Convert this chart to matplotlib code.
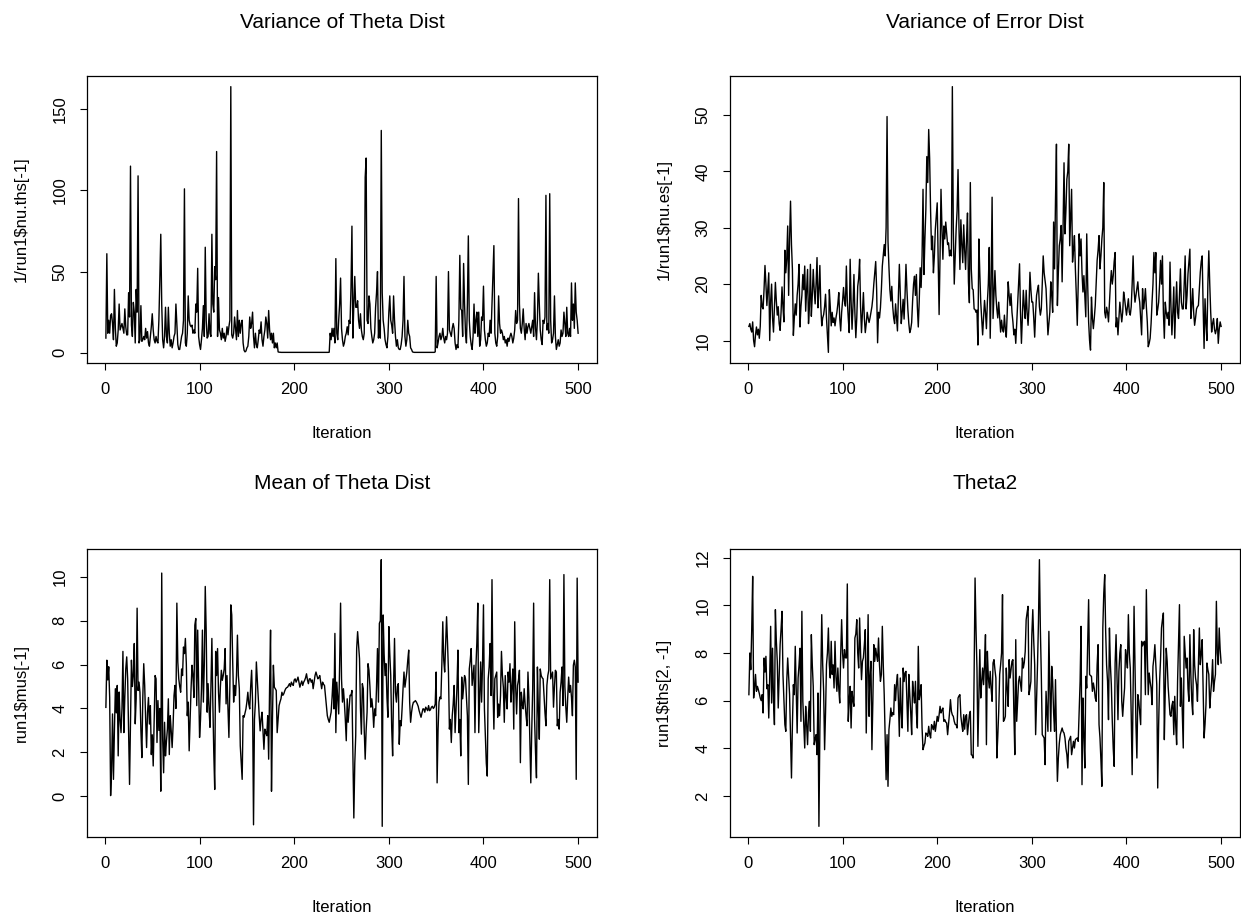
import matplotlib
matplotlib.use("Agg")
import matplotlib.pyplot as plt
import numpy as np

plt.rcParams["font.family"] = ["Liberation Sans", "DejaVu Sans"]

# 1/run1$nu.ths[-1]  (variance of theta dist), iterations 1..500
var_theta = [
    9, 61, 12, 20, 12, 23, 24, 18, 8, 39, 15, 4, 6, 14, 30, 14, 16, 18, 15, 12,
    27, 16, 11, 11, 37, 22, 115, 17, 10, 31, 25, 6, 39, 25, 109, 6, 8, 29, 7, 8,
    10, 8, 15, 9, 13, 6, 4, 10, 16, 24, 14, 8, 6, 10, 7, 6, 20, 45, 73, 30,
    8, 3, 10, 28, 10, 6, 28, 12, 4, 8, 3, 6, 10, 12, 30, 18, 5, 2, 2, 6,
    10, 12, 20, 101, 6, 4, 12, 35, 20, 17, 16, 17, 12, 14, 12, 30, 25, 52, 10, 5,
    2, 8, 15, 29, 10, 65, 20, 9, 10, 24, 12, 10, 73, 30, 25, 53, 45, 124, 10, 34,
    14, 12, 8, 15, 9, 12, 7, 10, 16, 11, 16, 20, 164, 11, 9, 12, 22, 15, 8, 26,
    10, 20, 12, 18, 20, 6, 1.5, 0.5, 1, 3, 4, 10, 22, 15, 18, 25, 10, 3, 12, 5,
    3, 8, 14, 12, 19, 8, 4, 10, 14, 22, 18, 9, 26, 14, 8, 12, 6, 12, 3, 6,
    3, 6, 0.5, 0.3, 0.3, 0.2, 0.2, 0.2, 0.2, 0.2, 0.2, 0.2, 0.2, 0.2, 0.2, 0.2, 0.2, 0.2, 0.2, 0.2,
    0.2, 0.2, 0.2, 0.2, 0.2, 0.2, 0.2, 0.2, 0.2, 0.2, 0.2, 0.2, 0.2, 0.2, 0.2, 0.2, 0.2, 0.2, 0.2, 0.2,
    0.2, 0.2, 0.2, 0.2, 0.2, 0.2, 0.2, 0.2, 0.2, 0.2, 0.2, 0.2, 0.2, 0.2, 0.2, 0.2, 0.3, 12, 8, 15,
    10, 15, 6, 58, 12, 8, 20, 30, 46, 15, 8, 4, 6, 10, 12, 16, 11, 20, 18, 40,
    78, 9, 30, 47, 28, 28, 32, 20, 15, 24, 14, 10, 8, 12, 108, 120, 20, 18, 35, 30,
    15, 10, 6, 8, 12, 28, 37, 50, 9, 20, 9, 137, 37, 20, 15, 8, 5, 3, 10, 25,
    35, 20, 17, 12, 35, 20, 10, 4, 8, 3, 2, 2, 5, 10, 20, 47, 10, 4, 8, 20,
    12, 10, 3, 2, 0.5, 0.3, 0.2, 0.2, 0.2, 0.2, 0.2, 0.2, 0.2, 0.2, 0.2, 0.2, 0.2, 0.2, 0.2, 0.2,
    0.2, 0.2, 0.2, 0.2, 0.2, 0.2, 0.2, 0.2, 0.5, 47, 3, 6, 10, 12, 8, 10, 15, 9, 6, 10,
    8, 12, 50, 14, 12, 10, 15, 18, 15, 6, 2, 5, 3, 20, 60, 27, 26, 10, 55, 30,
    12, 6, 30, 72, 20, 10, 5, 2, 10, 30, 12, 20, 25, 10, 25, 4, 8, 22, 20, 41,
    14, 8, 4, 6, 12, 10, 20, 12, 30, 50, 66, 12, 6, 4, 10, 35, 18, 12, 14, 12,
    8, 10, 6, 8, 4, 9, 7, 10, 12, 10, 6, 9, 14, 26, 18, 20, 95, 30, 15, 12,
    18, 27, 15, 8, 18, 12, 16, 18, 15, 12, 16, 20, 10, 37, 15, 8, 20, 49, 30, 14,
    8, 5, 20, 18, 22, 97, 14, 18, 12, 98, 20, 6, 8, 12, 35, 10, 2, 5, 8, 4,
    6, 14, 10, 12, 25, 18, 10, 28, 12, 10, 15, 10, 43, 20, 30, 15, 43, 25, 20, 12,
]

# 1/run1$nu.es[-1]  (variance of error dist)
var_error = [
    12.5, 13, 12, 11.5, 13.3, 10, 8.9, 11, 12.4, 11, 12, 10.4, 12.5, 18, 16, 15.6, 19, 23.3, 20, 16.2,
    19, 22, 10, 17, 20, 14, 11.5, 16, 20.3, 17, 14.5, 16, 13, 11.8, 15, 19.5, 16, 13.3, 26, 22,
    24.5, 30.3, 18, 28, 34.7, 27, 22.6, 10.9, 14, 16.5, 14.5, 18, 20, 23.5, 12.4, 16, 18, 21.7, 19, 23.2,
    15.2, 19, 22.6, 13, 16, 23.5, 14.3, 18, 22.6, 19, 16.5, 20, 24.7, 15.8, 19, 23.3, 16, 12.6, 14, 14.6,
    16, 18.2, 14, 11, 7.9, 19, 16, 12.6, 15, 13.2, 14, 12.6, 14, 15, 16.5, 18.5, 14, 11.7, 15, 17,
    19.4, 17, 16.1, 23.2, 17, 14, 11.4, 24.4, 17, 12, 16, 21.7, 15, 10.5, 14, 19.6, 21, 24.4, 16, 11.4,
    15, 18.5, 14, 11.4, 13, 15, 14, 13.2, 14, 15, 16, 17.6, 20, 22, 24, 19, 9.6, 15, 14, 15.8,
    19, 23.2, 25, 27, 25, 30, 49.7, 27.6, 23, 19, 17, 19.6, 16, 14, 13, 16.5, 14, 11.7, 18, 23.5,
    18, 13, 15, 17.3, 13.8, 18, 23.5, 19, 15.5, 13, 11.4, 12, 13.2, 17, 20, 21.4, 18, 21.7, 16, 12.4,
    17, 22.9, 19.4, 25, 36.8, 21.7, 28, 33.2, 42.6, 38, 47.4, 42.3, 33, 26.1, 28.5, 22, 25, 29.7, 32, 34.4,
    25, 14.6, 25, 36.8, 30, 24.4, 30.3, 28, 31, 29.1, 27, 27.3, 25, 26, 25, 55, 30, 20, 25, 29.7,
    33, 40.3, 30, 22.6, 31.4, 27, 23.8, 30.5, 26, 22.6, 28, 32.6, 20.4, 16.7, 38, 22.7, 19.2, 19, 15.6, 15.5,
    15, 15.4, 9.2, 28, 22, 16.8, 14, 11, 14, 17.1, 15, 12.1, 16.8, 20, 26.5, 10.4, 20, 35.4, 13.9, 18,
    22.4, 18, 15.6, 14, 16.8, 14, 11.5, 13.6, 12, 11.5, 14.5, 12, 10.6, 15, 20.4, 18, 16.2, 18.3, 15, 13.3,
    11, 12, 9.5, 13, 16.2, 20, 23.6, 15, 9.5, 14, 18.9, 16, 13.9, 18.9, 15, 12.7, 16, 22.1, 19, 16.8,
    16.8, 14, 10.6, 15, 18, 19, 19.8, 16, 14.5, 15.6, 20, 25, 22, 20.6, 19.2, 15, 11, 13, 15, 20.4,
    18, 15, 31, 22.7, 35, 44.8, 16.2, 22, 26.8, 28, 30.4, 20.4, 30, 41.5, 28.9, 33, 38.6, 40, 44.8, 26.8,
    32, 36.8, 23.9, 26, 28.6, 22.7, 18, 12.7, 20, 28.9, 25, 28, 22, 18.6, 21.5, 18, 14.2, 28.9, 20, 13.3,
    10, 8.3, 17.7, 14, 12.1, 14, 16.2, 20, 24.2, 26, 28.6, 22.7, 25, 28, 30, 38, 15, 14, 15.9, 15,
    13.3, 16.5, 20, 22.4, 20, 21.5, 24, 25.6, 12.4, 14, 11, 14, 16.8, 15, 13.3, 15, 18.6, 17.4, 16, 14.5,
    16, 17.4, 15, 14.5, 16, 20, 25, 19, 16.8, 18, 19.2, 20.4, 18, 16.8, 14, 11, 19.2, 15.6, 17, 19.2,
    16, 13.3, 8.9, 9.5, 10.4, 13, 16.8, 20, 25.6, 22, 25.6, 14.5, 15.5, 16.8, 20, 24.2, 20, 25, 15, 10.4,
    16.8, 15, 13.9, 15, 12.7, 23.9, 16, 11, 15, 19.5, 10.4, 16, 20.4, 15, 13.9, 18, 22.7, 16.8, 15.6, 15.6,
    20, 25, 15.6, 18, 21.8, 24, 26.2, 13.9, 16, 19.2, 15, 12.7, 14, 15.6, 16, 16.2, 19, 22.1, 24, 25,
    16, 8.6, 17.4, 13, 10, 20, 25.9, 20, 15, 11.5, 13, 13.9, 12, 11.2, 12, 13.9, 9.5, 12, 13.3, 12.5,
]

# run1$mus[-1]  (mean of theta dist)
mean_theta = [
    4.05, 6.2, 5.3, 5.9, 4.5, 0.03, 1.2, 3.75, 0.77, 3.0, 4.9, 3.8, 5.05, 1.84, 4.75, 3.5, 2.9, 4.0, 6.6, 2.9,
    4.5, 5.8, 6.35, 5.35, 3.0, 0.54, 3.5, 6.2, 5.0, 5.5, 6.96, 3.3, 4.44, 8.57, 4.82, 5.2, 4.74, 3.0, 1.76, 4.5,
    6.04, 5.05, 3.5, 2.22, 3.83, 4.5, 3.29, 4.13, 1.9, 2.8, 1.38, 3.5, 5.5, 5.35, 2.45, 4.36, 3.0, 4.0, 0.23, 10.17,
    2.6, 1.07, 3.37, 1.84, 2.5, 3.06, 4.44, 1.9, 3.67, 3.0, 2.22, 3.21, 4.59, 5.05, 4.0, 8.8, 6.12, 5.35, 5.0, 4.74,
    5.8, 5.5, 6.8, 6.5, 7.19, 6.04, 3.67, 4.29, 2.07, 3.5, 4.9, 5.97, 5.5, 4.5, 7.8, 8.1, 4.13, 7.57, 5.0, 2.68,
    3.5, 4.9, 7.57, 4.29, 6.0, 9.56, 7.5, 3.83, 5.13, 4.0, 3.14, 5.0, 7.19, 4.29, 2.0, 0.31, 6.6, 5.5, 6.73, 4.74,
    3.83, 5.0, 5.74, 5.28, 5.5, 5.8, 6.73, 4.21, 5.5, 4.0, 2.68, 5.0, 8.72, 8.26, 6.12, 4.29, 5.05, 4.59, 5.5, 7.34,
    5.5, 4.9, 2.3, 1.5, 0.77, 3.67, 3.6, 3.8, 3.98, 4.3, 4.74, 4.2, 3.98, 5.0, 5.74, 4.29, -1.3, 3.5, 4.29, 6.12,
    5.35, 4.5, 3.67, 2.98, 3.52, 3.83, 3.0, 2.14, 3.06, 2.9, 2.76, 3.67, 1.69, 5.0, 7.57, 0.23, 3.5, 5.97, 4.97, 4.9,
    4.82, 2.9, 3.52, 4.13, 4.3, 4.44, 4.74, 4.6, 4.67, 4.8, 4.9, 4.95, 4.97, 5.05, 5.13, 5.0, 5.2, 5.1, 5.05, 5.3,
    5.35, 5.2, 5.3, 5.43, 5.2, 4.97, 5.13, 5.25, 5.05, 5.2, 5.28, 5.4, 5.58, 5.3, 5.13, 5.35, 5.35, 5.2, 5.3, 4.9,
    5.2, 5.5, 5.66, 5.5, 5.35, 5.4, 5.5, 5.2, 4.9, 5.2, 5.1, 5.05, 4.6, 4.13, 3.67, 3.5, 3.37, 3.6, 3.83, 4.5,
    5.35, 3.98, 7.42, 2.9, 5.2, 4.5, 3.75, 6.0, 8.8, 5.35, 4.29, 4.9, 4.29, 3.5, 2.53, 4.44, 3.37, 4.0, 4.6, 4.59,
    4.82, 2.0, -0.99, 1.5, 2.76, 6.73, 7.5, 6.9, 6.27, 4.0, 2.83, 5.13, 4.9, 3.0, 1.69, 3.0, 3.83, 6.04, 5.74, 5.0,
    4.06, 4.44, 4.0, 3.14, 3.98, 3.67, 5.0, 6.73, 4.29, 7.88, 8.0, 10.78, -1.37, 8.26, 6.5, 5.5, 6.04, 4.5, 3.6, 7.73,
    6.5, 5.5, 3.14, 1.84, 5.0, 7.19, 4.74, 4.29, 5.0, 5.13, 2.37, 3.44, 3.21, 4.0, 4.9, 5.66, 4.97, 5.3, 5.66, 6.2,
    6.66, 4.29, 3.37, 3.83, 4.13, 4.29, 4.3, 4.36, 4.3, 4.21, 4.1, 3.9, 3.75, 3.6, 3.8, 3.98, 3.98, 3.83, 4.06, 3.98,
    3.9, 4.13, 3.9, 3.95, 4.06, 4.1, 4.0, 4.06, 4.2, 5.66, 0.61, 3.0, 4.29, 4.52, 4.44, 6.0, 7.95, 6.2, 5.66, 6.88,
    8.18, 7.0, 5.66, 3.06, 3.5, 2.45, 3.67, 4.2, 5.05, 2.9, 3.98, 5.0, 6.66, 2.9, 3.5, 1.84, 5.43, 4.44, 5.0, 5.5,
    5.35, 4.5, 3.67, 0.54, 5.8, 6.2, 6.73, 5.05, 5.5, 5.97, 2.9, 5.89, 7.0, 8.8, 2.9, 4.5, 6.12, 4.29, 6.0, 8.72,
    3.98, 2.76, 1.5, 0.92, 5.35, 5.9, 6.96, 4.59, 9.87, 5.0, 3.06, 5.35, 5.5, 5.66, 3.6, 4.2, 3.67, 4.59, 6.6, 5.5,
    4.97, 3.37, 5.5, 4.5, 3.98, 5.66, 5.2, 6.04, 4.29, 5.0, 5.8, 3.06, 7.95, 5.0, 3.75, 5.05, 5.3, 5.74, 1.53, 4.74,
    4.2, 3.98, 4.9, 4.2, 3.67, 3.21, 5.66, 4.5, 2.45, 0.61, 3.0, 4.9, 8.8, 3.52, 2.0, 0.84, 5.89, 4.0, 2.6, 5.8,
    5.5, 5.4, 5.35, 4.59, 3.8, 3.21, 5.05, 5.5, 5.74, 9.87, 5.35, 5.5, 5.66, 4.06, 5.0, 5.74, 5.66, 3.21, 3.5, 3.06,
    4.74, 5.2, 5.89, 4.13, 10.1, 5.0, 4.06, 3.37, 4.5, 5.43, 4.74, 5.05, 4.5, 3.67, 5.97, 6.2, 5.89, 0.77, 9.94, 5.2,
]

# run1$ths[2, -1]  (theta2)
theta2 = [
    6.25, 8.0, 7.3, 9.0, 11.22, 6.11, 6.5, 7.1, 6.39, 6.6, 6.46, 6.3, 6.11, 6.0, 6.25, 5.48, 7.79, 7.2, 7.86, 6.5,
    6.67, 5.27, 7.0, 9.12, 5.9, 8.2, 6.0, 4.99, 9.82, 8.5, 7.65, 5.69, 7.0, 8.35, 9.0, 9.75, 7.1, 6.0, 5.0, 4.71,
    6.81, 7.79, 7.0, 6.25, 4.5, 2.75, 5.0, 6.67, 6.25, 8.28, 6.5, 4.64, 6.95, 7.5, 8.2, 5.13, 9.75, 5.97, 5.0, 4.01,
    5.76, 5.0, 4.15, 5.5, 5.97, 4.71, 8.77, 7.5, 6.6, 4.15, 4.4, 4.57, 3.73, 6.32, 0.72, 4.78, 7.0, 9.61, 7.5, 6.39,
    3.94, 5.5, 7.51, 8.0, 9.05, 7.5, 6.95, 8.49, 7.1, 7.5, 6.53, 8.49, 7.0, 6.39, 7.37, 6.5, 5.9, 7.93, 9.4, 8.0,
    7.37, 8.14, 7.8, 7.79, 10.9, 5.13, 6.0, 6.6, 4.85, 6.39, 6.0, 5.76, 8.63, 8.8, 9.4, 8.0, 7.37, 9.47, 8.0, 6.88,
    7.65, 7.8, 8.35, 8.98, 4.64, 7.0, 9.61, 5.34, 7.0, 7.65, 3.94, 6.0, 8.35, 7.65, 8.2, 7.9, 7.65, 8.63, 7.5, 6.81,
    7.1, 9.12, 7.5, 6.25, 4.43, 2.68, 4.57, 2.4, 4.78, 5.2, 5.69, 5.34, 5.5, 5.41, 6.67, 6.0, 6.74, 7.1, 6.0, 4.5,
    6.95, 5.5, 4.85, 7.37, 6.8, 7.16, 7.23, 6.0, 4.71, 7.1, 6.25, 5.5, 4.57, 6.81, 6.3, 5.9, 6.81, 5.5, 4.85, 8.28,
    6.04, 6.3, 6.67, 4.85, 3.94, 4.1, 4.22, 4.64, 4.6, 4.5, 4.92, 4.6, 4.43, 4.99, 4.9, 4.78, 5.13, 4.71, 5.0, 5.34,
    5.13, 5.4, 5.76, 5.48, 5.6, 5.69, 5.13, 5.2, 5.1, 5.06, 4.57, 5.0, 5.48, 6.04, 5.55, 5.4, 5.34, 5.13, 5.0, 4.99,
    4.85, 6.11, 6.2, 6.25, 5.34, 5.0, 4.71, 5.41, 4.8, 5.34, 5.41, 4.57, 5.0, 5.41, 5.55, 3.73, 3.7, 3.59, 7.1, 11.15,
    9.0, 7.37, 4.08, 6.0, 8.14, 6.11, 6.8, 7.37, 6.67, 7.5, 8.77, 4.15, 8.07, 7.0, 6.53, 7.23, 6.5, 5.97, 7.58, 7.72,
    7.3, 6.95, 3.59, 4.5, 5.55, 7.1, 7.5, 8.0, 10.45, 5.13, 5.2, 5.34, 7.37, 6.5, 5.76, 7.72, 6.95, 7.3, 7.65, 7.72,
    5.5, 3.73, 8.56, 5.13, 6.0, 6.81, 7.02, 6.7, 6.39, 7.79, 7.37, 7.6, 8.07, 9.4, 9.7, 9.96, 6.25, 6.5, 6.81, 8.77,
    9.82, 8.5, 7.51, 4.57, 6.0, 7.51, 9.33, 11.92, 9.0, 7.1, 4.57, 4.5, 4.43, 3.31, 6.39, 5.5, 4.71, 8.91, 6.5, 4.71,
    7.44, 6.81, 5.5, 4.71, 6.88, 4.5, 2.61, 3.59, 4.2, 4.57, 4.71, 4.85, 4.7, 4.64, 4.43, 4.0, 3.73, 3.17, 4.29, 4.4,
    4.5, 3.73, 4.0, 4.29, 4.01, 4.36, 4.4, 4.43, 4.29, 5.5, 6.81, 9.12, 2.47, 6.11, 4.5, 3.17, 7.02, 6.53, 8.5, 10.24,
    7.1, 7.05, 7.02, 6.39, 6.74, 6.5, 6.11, 5.97, 7.5, 8.35, 4.99, 4.43, 3.5, 2.4, 9.05, 10.5, 11.29, 8.91, 7.5, 6.81,
    5.2, 9.05, 7.5, 6.67, 5.13, 4.0, 3.24, 7.58, 8.77, 7.0, 5.2, 7.23, 8.0, 8.35, 5.97, 5.34, 6.0, 6.53, 8.14, 7.8,
    7.37, 9.61, 8.0, 7.37, 5.41, 2.89, 6.5, 9.96, 7.44, 5.0, 3.59, 6.25, 5.97, 5.5, 4.99, 8.49, 8.3, 8.42, 8.49, 6.25,
    10.66, 8.0, 6.25, 7.16, 6.8, 6.53, 5.83, 7.44, 7.8, 8.35, 7.5, 6.67, 2.33, 5.0, 6.81, 7.72, 9.05, 9.4, 9.68, 4.36,
    6.5, 8.2, 7.65, 6.6, 6.0, 5.41, 5.34, 5.8, 5.97, 4.57, 6.18, 5.0, 4.15, 6.81, 8.5, 10.03, 5.76, 6.95, 5.5, 4.01,
    8.7, 8.0, 7.37, 7.79, 6.5, 5.97, 8.77, 7.1, 6.0, 5.41, 8.98, 7.5, 6.95, 6.67, 5.97, 7.5, 9.05, 7.51, 8.0, 8.56,
    6.53, 4.43, 5.0, 5.83, 7.58, 7.3, 7.1, 5.69, 6.3, 6.81, 7.72, 6.39, 6.8, 7.1, 10.17, 8.0, 7.51, 9.05, 8.14, 7.58,
]

titles = ["Variance of Theta Dist", "Variance of Error Dist", "Mean of Theta Dist", "Theta2"]
ylabels = ["1/run1$nu.ths[-1]", "1/run1$nu.es[-1]", "run1$mus[-1]", "run1$ths[2, -1]"]
series = [var_theta, var_error, mean_theta, theta2]
yticks = [
    [0, 50, 100, 150],
    [10, 20, 30, 40, 50],
    [0, 2, 4, 6, 8, 10],
    [2, 4, 6, 8, 10, 12],
]
xticks = [0, 100, 200, 300, 400, 500]

W, H = 1241, 913
fig = plt.figure(figsize=(W / 100, H / 100), dpi=100)

# plot boxes in pixels: left, top, right, bottom, title gap above box
boxes = [
    (87, 76, 597, 363, 54),
    (730, 76, 1240, 363, 54),
    (87, 549, 597, 837, 66),
    (730, 549, 1240, 837, 66),
]

for box, values, title, ylab, yt in zip(boxes, series, titles, ylabels, yticks):
    left, top, right, bottom, gap = box
    ax = fig.add_axes([left / W, 1 - bottom / H, (right - left) / W, (bottom - top) / H])
    y = np.asarray(values, dtype=float)
    x = np.arange(1, len(y) + 1)
    ax.plot(x, y, color="black", linewidth=1.0)
    ax.margins(x=0.04, y=0.04)
    ax.set_xticks(xticks)
    ax.set_yticks(yt)
    for side in ax.spines.values():
        side.set_linewidth(0.9)
        side.set_color("black")
    ax.tick_params(axis="both", direction="out", length=5, width=0.8, labelsize=12, colors="black")
    ax.tick_params(axis="x", pad=9)
    ax.tick_params(axis="y", pad=9, labelrotation=90)
    for lbl in ax.get_yticklabels():
        lbl.set_va("center")
    box_h = bottom - top
    box_w = right - left
    ax.text(0.5, 1 + gap / box_h, title, transform=ax.transAxes,
            ha="center", va="center", fontsize=15)
    ax.set_xlabel("Iteration", fontsize=12)
    ax.xaxis.set_label_coords(0.5, -70 / box_h)
    ax.xaxis.label.set_va("center")
    ax.set_ylabel(ylab, fontsize=12)
    ax.yaxis.set_label_coords(-66 / box_w, 0.5)
    ax.yaxis.label.set_va("center")

fig.savefig("out.png", dpi=100, facecolor="white")
